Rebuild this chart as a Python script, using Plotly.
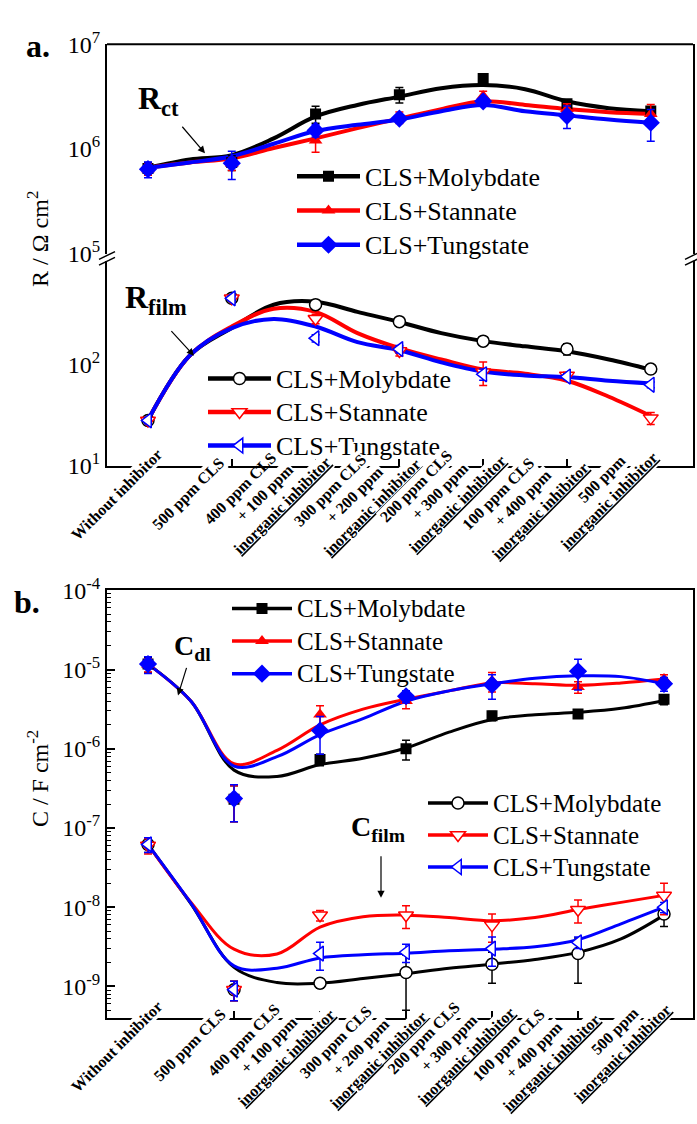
import plotly.graph_objects as go

W, H = 697, 1124
def px(x):
    return x / W
def py(y):
    return 1 - y / H

FONT = "Liberation Serif"
BLACK, RED, BLUE = "#000000", "#FF0000", "#0000FF"

# ---------------- data ----------------
x_cat = [0, 1, 2, 3, 4, 5, 6]
x_fit = [0, 0.5, 1, 1.5, 2, 2.5, 3, 3.5, 4, 4.5, 5, 5.5, 6]

categories = [
    ["Without inhibitor"],
    ["500 ppm CLS"],
    ["400 ppm CLS", "+ 100 ppm", "<u>inorganic inhibitor</u>"],
    ["300 ppm CLS", "+ 200 ppm", "<u>inorganic inhibitor</u>"],
    ["200 ppm CLS", "+ 300 ppm", "<u>inorganic inhibitor</u>"],
    ["100 ppm CLS", "+ 400 ppm", "<u>inorganic inhibitor</u>"],
    ["500 ppm", "<u>inorganic inhibitor</u>"],
]
series_names = ["CLS+Molybdate", "CLS+Stannate", "CLS+Tungstate"]

# R_ct (Ohm cm2)
rct_moly = [6.5e5, 7.4e5, 2.16e6, 3.3e6, 4.7e6, 2.7e6, 2.3e6]
rct_moly_err = [0.9e5, 1.2e5, 0.4e6, 0.55e6, 0.3e6, 0.25e6, 0.2e6]
rct_stan = [6.4e5, 7.2e5, 1.2e6, 2.0e6, 3.2e6, 2.4e6, 2.15e6]
rct_stan_err = [0.8e5, 1.0e5, 0.27e6, 0.25e6, 0.35e6, 0.3e6, 0.5e6]
rct_tung = [6.4e5, 7.3e5, 1.5e6, 1.95e6, 2.85e6, 2.07e6, 1.78e6]
rct_tung_err = [1.1e5, 2.2e5, 0.2e6, 0.15e6, 0.25e6, 0.5e6, 0.6e6]
rct_fit_moly = [6.61e5, 7.94e5, 8.71e5, 1.26e6, 2.04e6, 2.63e6, 3.16e6, 3.80e6, 4.07e6, 3.72e6, 2.85e6, 2.45e6, 2.29e6]
rct_fit_stan = [6.61e5, 7.41e5, 8.13e5, 1.02e6, 1.26e6, 1.58e6, 1.95e6, 2.40e6, 2.85e6, 2.63e6, 2.40e6, 2.24e6, 2.16e6]
rct_fit_tung = [6.61e5, 7.41e5, 8.51e5, 1.12e6, 1.48e6, 1.70e6, 1.91e6, 2.29e6, 2.63e6, 2.29e6, 2.09e6, 1.91e6, 1.78e6]

# R_film (Ohm cm2)
rfilm_moly = [28, 450, 390, 265, 170, 142, 90]
rfilm_moly_err = [2, 20, 40, 20, 12, 18, 5]
rfilm_stan = [28, 450, 283, 136, 84, 78, 29.5]
rfilm_stan_err = [2, 20, 30, 15, 22, 6, 4]
rfilm_tung = [28, 450, 182, 142, 80, 76, 63]
rfilm_tung_err = [2, 25, 15, 12, 10, 5, 4]
rfilm_fit_moly = [28.2, 123, 229, 389, 417, 331, 263, 204, 170, 151, 135, 112, 89]
rfilm_fit_stan = [28.2, 123, 237, 355, 331, 204, 145, 112, 89, 81, 69, 48, 31]
rfilm_fit_tung = [28.2, 123, 229, 282, 237, 166, 138, 105, 85, 78, 75, 69, 65]

# C_dl (F cm-2)
cdl_moly = [1.17e-5, 2.3e-7, 7.3e-7, 1.0e-6, 2.6e-6, 2.75e-6, 4.2e-6]
cdl_moly_err = [2.5e-6, 1.1e-7, 1.2e-7, 0.28e-6, 0.35e-6, 0.3e-6, 0.6e-6]
cdl_stan = [1.15e-5, 2.3e-7, 2.7e-6, 4.0e-6, 7.2e-6, 6.0e-6, 7.6e-6]
cdl_stan_err = [2.2e-6, 1.1e-7, 0.8e-6, 0.8e-6, 2.0e-6, 1.0e-6, 1.0e-6]
cdl_tung = [1.17e-5, 2.35e-7, 1.7e-6, 4.6e-6, 6.4e-6, 9.5e-6, 6.6e-6]
cdl_tung_err = [2.8e-6, 1.15e-7, 0.85e-6, 0.8e-6, 2.2e-6, 4.0e-6, 1.3e-6]
cdl_fit_moly = [1.17e-5, 3.98e-6, 5.37e-7, 4.47e-7, 6.31e-7, 7.59e-7, 1.02e-6, 1.62e-6, 2.34e-6, 2.69e-6, 2.88e-6, 3.24e-6, 4.07e-6]
cdl_fit_stan = [1.17e-5, 3.98e-6, 6.46e-7, 9.55e-7, 2.0e-6, 3.16e-6, 4.22e-6, 5.37e-6, 6.76e-6, 6.61e-6, 6.31e-6, 6.76e-6, 7.59e-6]
cdl_fit_tung = [1.17e-5, 3.98e-6, 6.03e-7, 7.94e-7, 1.51e-6, 2.40e-6, 3.98e-6, 5.37e-6, 6.61e-6, 7.76e-6, 8.32e-6, 8.13e-6, 6.61e-6]

# C_film (F cm-2)
cfilm_moly = [6.2e-8, 9.1e-10, 1.1e-9, 1.5e-9, 1.9e-9, 2.6e-9, 8.2e-9]
cfilm_moly_err = [1.3e-8, 2.5e-10, 1.5e-10, 1.0e-9, 0.8e-9, 1.5e-9, 2.5e-9]
cfilm_stan = [6.0e-8, 9.1e-10, 7.9e-9, 7.9e-9, 5.9e-9, 9.3e-9, 1.4e-8]
cfilm_stan_err = [1.3e-8, 2.5e-10, 1.2e-9, 2.5e-9, 2.3e-9, 3.0e-9, 6.0e-9]
cfilm_tung = [6.2e-8, 9.1e-10, 2.6e-9, 2.7e-9, 3.0e-9, 3.6e-9, 1.0e-8]
cfilm_tung_err = [1.3e-8, 2.5e-10, 1.0e-9, 0.7e-9, 1.2e-9, 0.6e-9, 1.5e-9]
cfilm_fit_moly = [6.17e-8, 1.10e-8, 1.74e-9, 1.12e-9, 1.10e-9, 1.26e-9, 1.45e-9, 1.70e-9, 1.91e-9, 2.19e-9, 2.69e-9, 3.98e-9, 7.94e-9]
cfilm_fit_stan = [6.17e-8, 1.15e-8, 2.95e-9, 2.57e-9, 5.62e-9, 7.59e-9, 7.94e-9, 7.41e-9, 6.76e-9, 7.41e-9, 9.33e-9, 1.15e-8, 1.41e-8]
cfilm_fit_tung = [6.17e-8, 1.12e-8, 1.82e-9, 1.70e-9, 2.29e-9, 2.51e-9, 2.63e-9, 2.82e-9, 2.95e-9, 3.16e-9, 3.89e-9, 6.17e-9, 1.0e-8]

# ---------------- figure ----------------
fig = go.Figure()
colors = [BLACK, RED, BLUE]

def add_group(xa, ya, fits, vals, errs, symbols, filled, msizes, lw, legend, tsize):
    for fit, c in zip(fits, colors):
        fig.add_trace(go.Scatter(x=x_fit, y=fit, mode="lines", xaxis=xa, yaxis=ya,
                                 line=dict(color=c, width=lw, shape="spline", smoothing=1.0),
                                 showlegend=False, hoverinfo="skip"))
    for v, e, c, s, ms in zip(vals, errs, colors, symbols, msizes):
        fig.add_trace(go.Scatter(
            x=x_cat, y=v, mode="markers", xaxis=xa, yaxis=ya,
            marker=dict(symbol=s, size=ms, color=c if filled else "white",
                        line=dict(color=c, width=0 if filled else 1.5)),
            error_y=dict(type="data", array=e, color=c, thickness=1.5, width=4),
            showlegend=False))
    for name, c, s, ms in zip(series_names, colors, symbols, msizes):
        fig.add_trace(go.Scatter(
            x=[None], y=[None], mode="lines+markers", xaxis=xa, yaxis=ya,
            name='<span style="font-size:%dpx">%s</span>' % (tsize, name),
            line=dict(color=c, width=lw + 0.5),
            marker=dict(symbol=s, size=ms, color=c if filled else "white",
                        line=dict(color=c, width=0 if filled else 1.5)),
            legend=legend, showlegend=True))

add_group("x", "y", [rct_fit_moly, rct_fit_stan, rct_fit_tung],
          [rct_moly, rct_stan, rct_tung], [rct_moly_err, rct_stan_err, rct_tung_err],
          ["square", "triangle-up", "diamond"], True, [11, 12, 14], 4, "legend", 26)
add_group("x", "y2", [rfilm_fit_moly, rfilm_fit_stan, rfilm_fit_tung],
          [rfilm_moly, rfilm_stan, rfilm_tung], [rfilm_moly_err, rfilm_stan_err, rfilm_tung_err],
          ["circle", "triangle-down", "triangle-left"], False, [12, 13, 13], 4, "legend2", 26)
add_group("x2", "y3", [cdl_fit_moly, cdl_fit_stan, cdl_fit_tung],
          [cdl_moly, cdl_stan, cdl_tung], [cdl_moly_err, cdl_stan_err, cdl_tung_err],
          ["square", "triangle-up", "diamond"], True, [11, 12, 14], 3, "legend3", 25)
add_group("x2", "y3", [cfilm_fit_moly, cfilm_fit_stan, cfilm_fit_tung],
          [cfilm_moly, cfilm_stan, cfilm_tung], [cfilm_moly_err, cfilm_stan_err, cfilm_tung_err],
          ["circle", "triangle-down", "triangle-left"], False, [12, 13, 13], 3, "legend4", 25)

axis_common = dict(showline=True, linecolor="black", linewidth=2, showgrid=False,
                   zeroline=False, tickfont=dict(family=FONT, size=24, color="black"))

xa_dom = [px(107), px(693)]
fig.update_layout(
    width=W, height=H, margin=dict(l=0, r=0, t=0, b=0),
    paper_bgcolor="white", plot_bgcolor="white",
    font=dict(family=FONT, color="black"),
    xaxis=dict(axis_common, domain=xa_dom, range=[-0.489, 6.504], anchor="y2",
               tickmode="array", tickvals=x_cat, showticklabels=False,
               ticks="inside", ticklen=7, tickwidth=1.5, tickcolor="black"),
    yaxis=dict(axis_common, domain=[py(243), py(28)], type="log", range=[5, 7],
               anchor="x", mirror=True, ticks="",
               tickmode="array", tickvals=[1e5, 1e6, 1e7],
               ticktext=["10<sup>5</sup>", "10<sup>6</sup>", "10<sup>7</sup>"]),
    yaxis2=dict(axis_common, domain=[py(461), py(251)], type="log",
                range=[1, 1 + 210 / 104], anchor="x", mirror=True, ticks="",
                tickmode="array", tickvals=[10, 100],
                ticktext=["10<sup>1</sup>", "10<sup>2</sup>"]),
    xaxis2=dict(axis_common, domain=xa_dom, range=[-0.477, 6.337], anchor="y3",
                mirror=True, tickmode="array", tickvals=x_cat, showticklabels=False,
                ticks="inside", ticklen=7, tickwidth=1.5, tickcolor="black"),
    yaxis3=dict(axis_common, domain=[py(1028), py(589)], type="log",
                range=[-9.393, -4], anchor="x2", mirror=True,
                ticks="inside", ticklen=8, tickwidth=1.5, tickcolor="black",
                tickmode="array", tickvals=[1e-4, 1e-5, 1e-6, 1e-7, 1e-8, 1e-9],
                ticktext=["10<sup>-4</sup>", "10<sup>-5</sup>", "10<sup>-6</sup>",
                          "10<sup>-7</sup>", "10<sup>-8</sup>", "10<sup>-9</sup>"],
                minor=dict(ticks="inside", ticklen=4, tickwidth=1, tickcolor="black",
                           tickmode="array",
                           tickvals=[m * 10.0 ** e for e in range(-10, -4) for m in range(2, 10)])),
)

def leg(x, y, fsize, iw):
    return dict(x=px(x), y=py(y), xanchor="left", yanchor="top", bgcolor="rgba(0,0,0,0)",
                font=dict(family=FONT, size=fsize, color="black"), itemwidth=iw,
                traceorder="normal")

fig.update_layout(
    legend=leg(292, 141, 24, 63),
    legend2=leg(203, 349, 23.5, 63),
    legend3=leg(227, 586, 22.7, 60),
    legend4=leg(423, 786, 22.3, 60),
)

shapes = []
# top border of panel a
shapes.append(dict(type="line", xref="paper", yref="paper", x0=xa_dom[0], x1=xa_dom[1],
                   y0=py(28), y1=py(28), line=dict(color="black", width=2)))
# axis-break marks
for xb in (107, 693):
    for yb in (245, 251):
        shapes.append(dict(type="line", xref="paper", yref="paper",
                           x0=px(xb - 8), y0=py(yb + 4), x1=px(xb + 8), y1=py(yb - 4),
                           line=dict(color="black", width=1.5)))
    shapes.append(dict(type="line", xref="paper", yref="paper", x0=px(xb), x1=px(xb),
                       y0=py(247), y1=py(249), line=dict(color="white", width=4)))
fig.update_layout(shapes=shapes)

# ---- rotated category labels: one annotation per text line, anchored at line start ----
C45 = 0.7071
LH = 21.2
def line_starts(i):
    if i == 0:
        return [(-71, 76)]
    if i == 1:
        return [(-74, 66)]
    if i == 6:
        bx, by = -84, 86
        return [(bx - LH * C45 + 45 * C45, by - LH * C45 - 45 * C45), (bx, by)]
    sh = {2: (0, 0), 3: (6, 2), 4: (8, -2), 5: (7, 5)}[i]
    bx, by = -106 + sh[0], 61 + sh[1]
    return [(bx, by),
            (bx + LH * C45 + 25 * C45, by + LH * C45 - 25 * C45),
            (bx + 2 * LH * C45, by + 2 * LH * C45)]

BOXH, DESC = 19.0, 4.0
ann = []
for xa, yd in (("x", "y2 domain"), ("x2", "y3 domain")):
    for i, lines in enumerate(categories):
        for j, ((sx, sy), t) in enumerate(zip(line_starts(i), lines)):
            ax_ = sx + C45 * DESC - C45 * BOXH
            ay_ = sy + C45 * DESC
            # white box breaks the axis line; skipped where it would hide legend text
            bg = "rgba(0,0,0,0)" if (xa == "x" and i == 2 and j == 0) else "white"
            ann.append(dict(x=x_cat[i], y=0, xref=xa, yref=yd, text=t, showarrow=False,
                            textangle=-45, xanchor="left", yanchor="bottom",
                            xshift=ax_, yshift=-ay_, borderpad=0, bgcolor=bg,
                            font=dict(family=FONT, size=16, color="black", weight="bold")))

def txt(x, y, t, size, bold=False, angle=0):
    ann.append(dict(x=px(x), y=py(y), xref="paper", yref="paper", text=t, showarrow=False,
                    textangle=angle, xanchor="center", yanchor="middle",
                    font=dict(family=FONT, size=size, color="black",
                              weight="bold" if bold else "normal")))

def arrow(xh, yh, dx, dy):
    ann.append(dict(x=px(xh), y=py(yh), xref="paper", yref="paper", text="", showarrow=True,
                    ax=dx, ay=dy, arrowhead=2, arrowsize=1.2, arrowwidth=1.2,
                    arrowcolor="black"))

txt(38, 30, "a.", 32, bold=True)
txt(27, 601, "b.", 32, bold=True)
txt(38, 228, "R / \u03a9 cm<sup>2</sup>", 24, angle=-90)
txt(38, 783, "C / F cm<sup>-2</sup>", 24, angle=-90)
txt(158, 86, "R<sub>ct</sub>", 32, bold=True)
txt(156, 290, "R<sub>film</sub>", 32, bold=True)
txt(192, 648, "C<sub>dl</sub>", 28, bold=True)
txt(378, 834, "C<sub>film</sub>", 28, bold=True)
arrow(205, 140, -24, -28)
arrow(194, 348, -24, -26)
arrow(178, 697, 9, -29)
arrow(381, 905, 0, -43)
fig.update_layout(annotations=ann)

fig.write_html("out.html")
